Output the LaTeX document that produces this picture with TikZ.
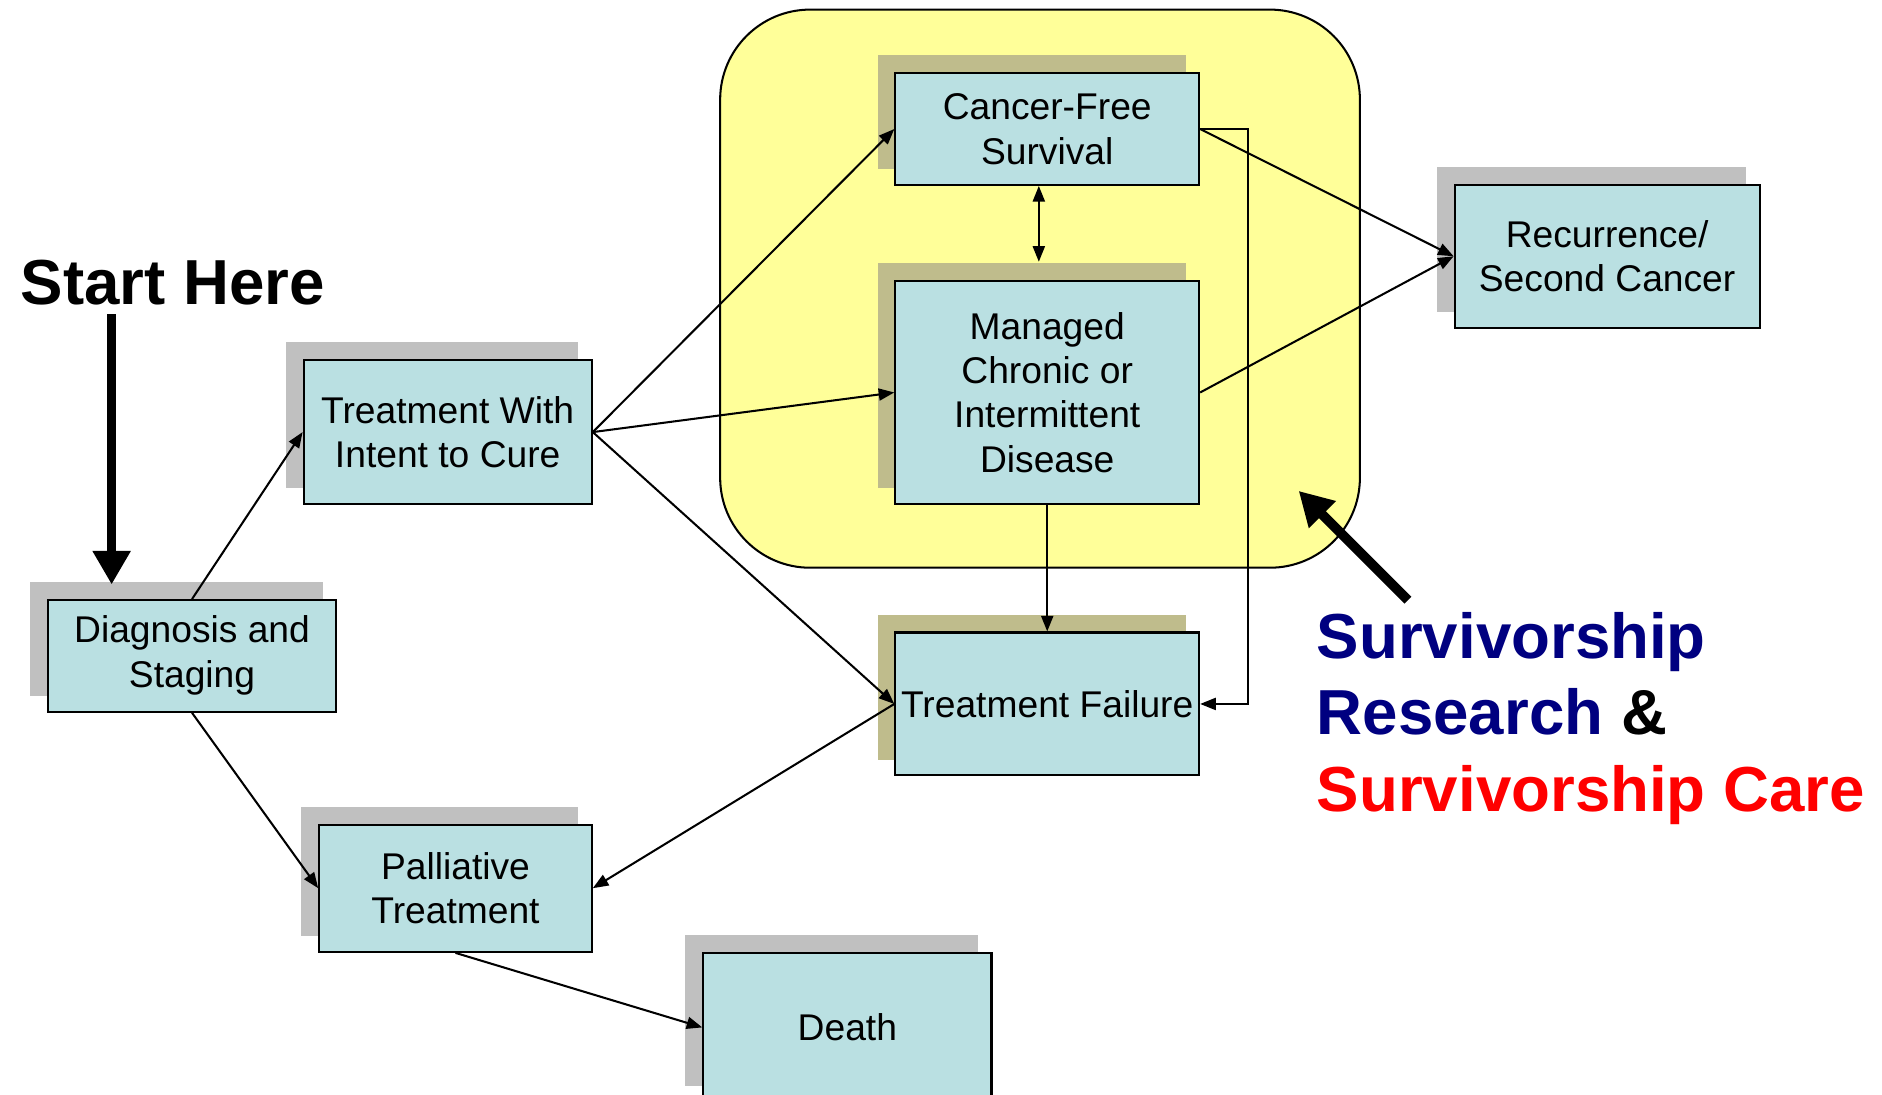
\documentclass[tikz,border=0pt]{standalone}
\usepackage{fontspec}
\setmainfont{Liberation Sans}
\usetikzlibrary{arrows.meta,backgrounds}
\definecolor{boxblue}{RGB}{186,224,226}
\definecolor{shgray}{RGB}{192,192,192}
\definecolor{shyel}{RGB}{191,188,140}
\definecolor{zoneyellow}{RGB}{255,255,153}
\definecolor{navyblue}{RGB}{0,0,128}
\definecolor{brightred}{RGB}{255,0,0}
\begin{document}
\begin{tikzpicture}[x=1pt,y=-1pt,
  box/.style={draw=black, line width=1.8pt, fill=boxblue, inner sep=0pt, align=center,
    font=\fontsize{31}{37}\selectfont},
  conn/.style={line width=1.7pt, -{Triangle[length=13pt,width=10pt]}},
  dconn/.style={line width=1.7pt, {Triangle[length=13pt,width=10pt]}-{Triangle[length=13pt,width=10pt]}},
  bigarrow/.style={line width=8pt, -{Triangle[length=28pt,width=30pt]}},
  bigtext/.style={anchor=base west, inner sep=0pt, font=\fontsize{53}{64}\selectfont\bfseries},
  zone/.style={draw=black, line width=1.7pt, fill=zoneyellow, rounded corners=75pt}
]
\useasboundingbox (0,0) rectangle (1568,912);

% yellow survivorship zone
\begin{scope}[on background layer]
\draw[zone] (600,8) rectangle (1133,473);
\end{scope}

% boxes
\node[box, minimum width=240pt, minimum height=93pt]  (diag)  at (160,546.5) {\raisebox{-4pt}{\begin{tabular}{@{}c@{}}Diagnosis and\\Staging\end{tabular}}};
\node[box, minimum width=240pt, minimum height=120pt] (cure)  at (373,360)   {Treatment With\\Intent to Cure};
\node[box, minimum width=227pt, minimum height=106pt] (pall)  at (379.5,740) {Palliative\\Treatment};
\node[box, minimum width=240pt, minimum height=124pt] (death) at (706,856)   {Death};
\node[box, minimum width=253pt, minimum height=93pt]  (cf)    at (872.5,107.5) {Cancer-Free\\Survival};
\node[box, minimum width=253pt, minimum height=186pt] (man)   at (872.5,327) {Managed\\Chronic or\\Intermittent\\Disease};
\node[box, minimum width=253pt, minimum height=119pt] (fail)  at (872.5,586.5) {Treatment Failure};
\node[box, minimum width=254pt, minimum height=119pt] (rec)   at (1339,213.5) {Recurrence/\\Second Cancer};

% shadows
\begin{scope}[on background layer]
\foreach \n in {diag,cure,pall,death,rec}
  \fill[shgray] ([shift={(-14pt,14pt)}]\n.south west) rectangle ([shift={(-12pt,14pt)}]\n.north east);
\foreach \n in {cf,man,fail}
  \fill[shyel] ([shift={(-14pt,14pt)}]\n.south west) rectangle ([shift={(-12pt,14pt)}]\n.north east);
\end{scope}

% texts
\node[bigtext] (start) at (17,254) {Start Here};
\node[bigtext, text=navyblue] (surv1) at (1097,549) {Survivorship};
\node[bigtext] (surv2) at (1097,612) {\textcolor{navyblue}{Research} \&};
\node[bigtext, text=brightred] (surv3) at (1097,676) {Survivorship Care};

% helper coordinates
\coordinate (s0) at (93,262);
\coordinate (s1) at (93,487);
\coordinate (sa1) at (1173,500);
\coordinate (sa2) at (1082,409);
\coordinate (loopx) at (1040,0);

% connectors
\draw[conn] (diag.north) -- (cure.west);
\draw[conn] (diag.south) -- (pall.west);
\draw[conn] (cure.east) -- (cf.west);
\draw[conn] (cure.east) -- (man.west);
\draw[conn] (cure.east) -- (fail.west);
\draw[dconn] ([xshift=-7pt]cf.south) -- ([xshift=-7pt,yshift=15pt]man.north);
\draw[conn] (man.south) -- (fail.north);
\draw[conn] (cf.east) -- (rec.west);
\draw[conn] (man.east) -- (rec.west);
\draw[conn] (cf.east) -- (cf.east -| loopx) |- (fail.east);
\draw[conn] (fail.west) -- (pall.east);
\draw[conn] (pall.south) -- (death.west);
\draw[bigarrow] (s0) -- (s1);
\draw[bigarrow] (sa1) -- (sa2);
\end{tikzpicture}
\end{document}
